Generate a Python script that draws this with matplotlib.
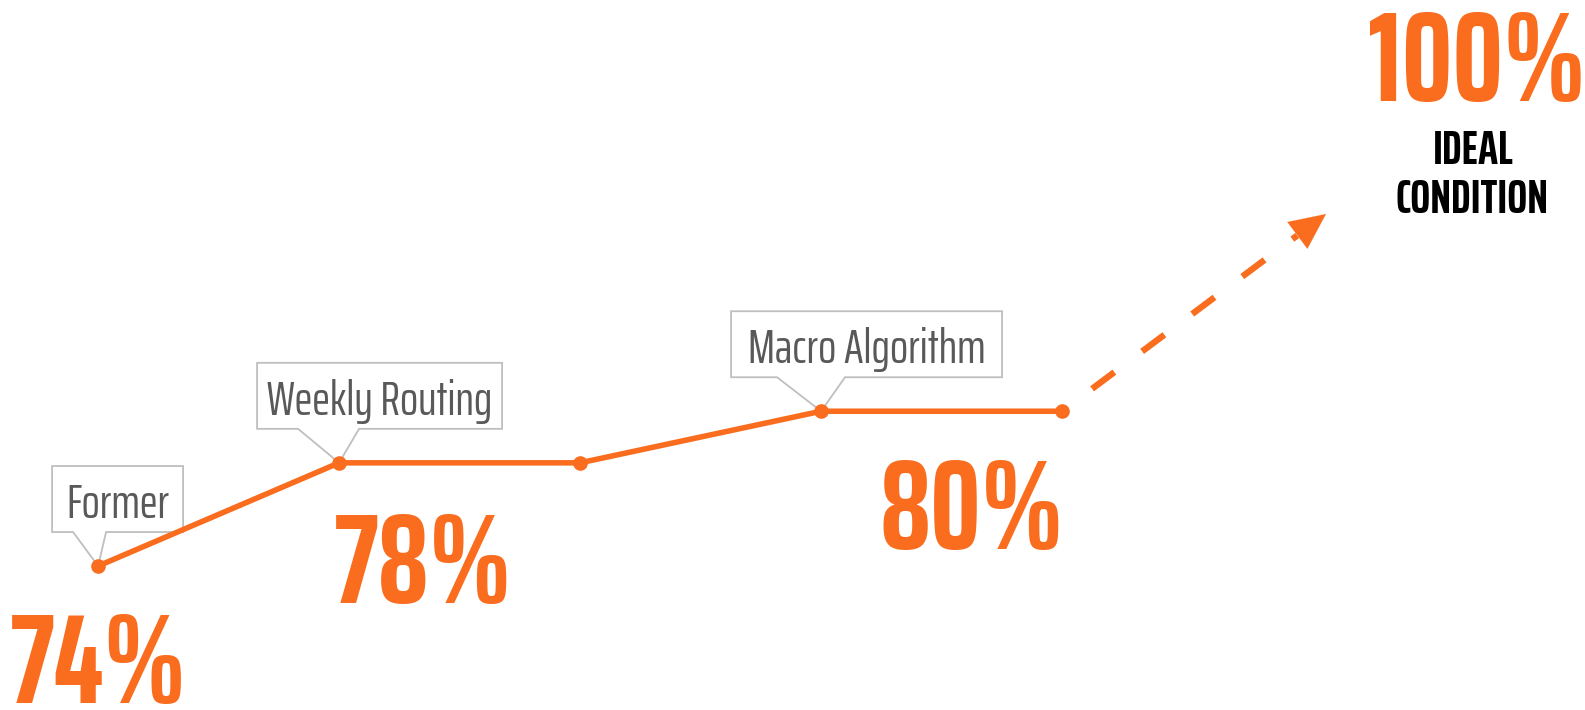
import matplotlib
matplotlib.use("Agg")
import matplotlib.pyplot as plt
from matplotlib.patches import Polygon
from matplotlib.transforms import Affine2D, ScaledTranslation
import numpy as np

# data
steps = [0, 1, 2, 3, 4]
accuracy = [74, 78, 78, 80, 80]
ideal_value = 100
ideal_text = ["IDEAL", "CONDITION"]
callouts = [(0, "Former"), (1, "Weekly Routing"), (3, "Macro Algorithm")]
pct_labels = [0, 1, 4]   # which points get the big % number

ORANGE = "#FA6C1E"
GREY_TXT = "#595959"
GREY_EDGE = "#BFBFBF"

plt.rcParams["font.family"] = ["Saira ExtraCondensed", "DejaVu Sans"]
plt.rcParams["lines.scale_dashes"] = False

fig = plt.figure(figsize=(15.85, 7.1), dpi=100)
ax = fig.add_axes([0, 0, 1, 1])
ax.set_xlim(-0.407, 6.17)
ax.set_ylim(68.42, 95.94)
ax.axis("off")
renderer = fig.canvas.get_renderer()


def fit_width(texts, ref, target_px):
    # scale a group of texts so that `ref` is target_px wide
    w = ref.get_window_extent(renderer).width
    k = target_px / w
    for t in texts:
        t.set_fontsize(t.get_fontsize() * k)


ax.plot(steps, accuracy, color=ORANGE, lw=4, marker="o", ms=9.5,
        solid_capstyle="round", zorder=3)

# callout boxes (pixel offsets from the point)
box_geom = {
    "Former": (-46, 85, -25, 8),
    "Weekly Routing": (-82, 163, -41, 20),
    "Macro Algorithm": (-90, 181, -44, 24),
}
label_texts = []
for idx, label in callouts:
    x0, x1, p0, p1 = box_geom[label]
    b0, b1 = 34, 100
    verts = [(x0, b0), (x0, b1), (x1, b1), (x1, b0), (p1, b0), (0, 0), (p0, b0)]
    tr = Affine2D() + ScaledTranslation(steps[idx], accuracy[idx], ax.transData)
    ax.add_patch(Polygon(verts, closed=True, transform=tr, facecolor="white",
                         edgecolor=GREY_EDGE, lw=1.3, zorder=2))
    t = ax.annotate(label, (steps[idx], accuracy[idx]), xytext=((x0 + x1) / 2, 48),
                    textcoords="offset pixels", ha="center", va="baseline",
                    fontsize=30, color=GREY_TXT, zorder=4)
    label_texts.append(t)
fit_width(label_texts, label_texts[1], 226)

# big percentage numbers
pct_pos = {0: (0, "center", -137), 1: (-5, "left", -140), 4: (2, "right", -138)}
big_texts = []
for idx in pct_labels:
    dx, ha, dy = pct_pos[idx]
    t = ax.annotate(f"{accuracy[idx]}%", (steps[idx], accuracy[idx]), xytext=(dx, dy),
                    textcoords="offset pixels", ha=ha, va="baseline",
                    fontsize=76, fontweight="bold", color=ORANGE)
    big_texts.append(t)

t100 = ax.text(0.932, 0.858, f"{ideal_value}%", transform=ax.transAxes, ha="center",
               va="baseline", fontsize=76, fontweight="bold", color=ORANGE)
big_texts.append(t100)
fit_width(big_texts, big_texts[0], 177)

t_ideal = ax.text(0.9297, 0.769, ideal_text[0], transform=ax.transAxes, ha="center",
                  va="baseline", fontsize=27, fontweight="bold", color="black")
t_cond = ax.text(0.9287, 0.700, ideal_text[1], transform=ax.transAxes, ha="center",
                 va="baseline", fontsize=27, fontweight="bold", color="black")
fit_width([t_ideal, t_cond], t_cond, 154)

# dashed arrow to ideal
tip = ax.transAxes.transform((0.8366, 0.6986))
start = ax.transData.transform((steps[-1], accuracy[-1]))
u = (tip - start) / np.linalg.norm(tip - start)
base = tip - 36 * u
inv = ax.transData.inverted()
line_pts = inv.transform(np.array([start, base]))
ax.plot(line_pts[:, 0], line_pts[:, 1], color=ORANGE, lw=4.6,
        linestyle=(18, (20, 25)), solid_capstyle="butt", zorder=2)
ax.annotate("", xy=inv.transform(tip), xytext=inv.transform(base + 2 * u),
            arrowprops=dict(arrowstyle="-|>,head_length=1.6,head_width=0.75",
                            color=ORANGE, lw=0.1, shrinkA=0, shrinkB=0,
                            mutation_scale=16))

fig.savefig("out.png", dpi=100, facecolor="white")
